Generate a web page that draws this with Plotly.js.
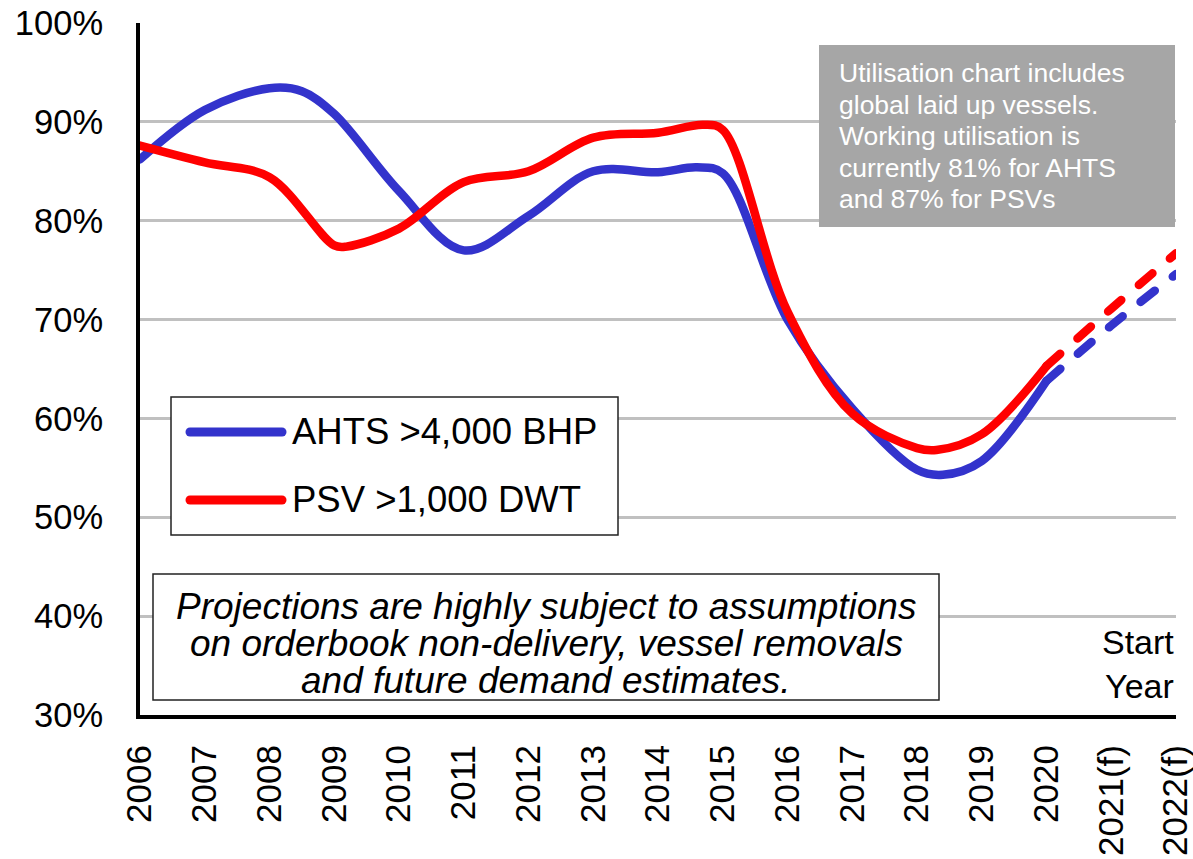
<!DOCTYPE html>
<html>
<head>
<meta charset="utf-8">
<script src="https://cdn.plot.ly/plotly-3.0.1.min.js"></script>
<style>
  body { margin: 0; background: #fff; }
  #chart { width: 1193px; height: 859px; }
  .scatterlayer .js-line { stroke-linecap: round !important; }
  .shapelayer path { stroke-linecap: round; }
</style>
</head>
<body>
<div id="chart"></div>
<script>
// Offshore vessel utilisation - AHTS vs PSV, with forecast years dashed

var years = [2006, 2007, 2008, 2009, 2010, 2011, 2012, 2013, 2014, 2015, 2016, 2017, 2018, 2019, 2020, 2021, 2022];
var yearLabels = ['2006', '2007', '2008', '2009', '2010', '2011', '2012', '2013', '2014', '2015',
                  '2016', '2017', '2018', '2019', '2020', '2021(f)', '2022(f)'];

// values (a few extra points where a curve turns between years)
var ahtsX = [2006, 2007, 2008, 2008.5, 2009, 2010, 2011, 2012, 2013, 2014, 2014.6, 2015, 2016, 2017, 2018, 2018.4, 2019, 2020, 2021, 2022];
var ahtsY = [86.2, 91.2, 93.4, 93.1, 90.8, 83.0, 77.0, 80.5, 85.0, 84.9, 85.4, 84.8, 70.0, 61.0, 54.8, 54.3, 55.7, 63.8, 69.4, 74.6];
var psvX = [2006, 2007, 2008, 2009, 2009.2, 2010, 2011, 2012, 2013, 2014, 2014.7, 2015, 2016, 2017, 2018, 2018.3, 2019, 2020, 2021, 2022];
var psvY = [87.6, 85.9, 84.4, 77.5, 77.4, 79.2, 83.9, 85.0, 88.4, 88.9, 89.7, 89.2, 70.8, 60.5, 57.0, 56.8, 58.4, 65.3, 71.1, 76.7];

var forecastFrom = 2020;
var seriesNames = ['AHTS >4,000 BHP', 'PSV >1,000 DWT'];
var seriesColors = ['#3333cc', '#ff0000'];
var yTicks = [30, 40, 50, 60, 70, 80, 90, 100];

var noteLines = ['Utilisation chart includes', 'global laid up vessels.', 'Working utilisation is',
                 'currently 81% for AHTS', 'and 87% for PSVs'];
var caveatLines = ['Projections are highly subject to assumptions',
                   'on orderbook non-delivery, vessel removals',
                   'and future demand estimates.'];
var axisNote = 'Start<br>Year';

var FONT = 'Arial, "Liberation Sans", sans-serif';

// plot box in page pixels, used to place the boxes and notes
var L = 140, R = 1176, T = 23, B = 715;
function px(x) { return (x - L) / (R - L); }
function py(y) { return (B - y) / (B - T); }

function part(xs, ys, keep) {
    var ox = [], oy = [];
    xs.forEach(function (x, i) {
        if (keep(x)) { ox.push(x); oy.push(ys[i]); }
    });
    return { x: ox, y: oy };
}

var data = [];
[[ahtsX, ahtsY], [psvX, psvY]].forEach(function (s, i) {
    var actual = part(s[0], s[1], function (x) { return x <= forecastFrom; });
    var fcst = part(s[0], s[1], function (x) { return x >= forecastFrom; });
    data.push({
        type: 'scatter', mode: 'lines', name: seriesNames[i],
        x: actual.x, y: actual.y,
        line: { color: seriesColors[i], width: 8.5, shape: 'spline', smoothing: 1 },
        showlegend: false, hoverinfo: 'skip'
    });
    data.push({
        type: 'scatter', mode: 'lines', name: seriesNames[i] + ' (f)',
        x: fcst.x, y: fcst.y,
        line: { color: seriesColors[i], width: 8.5, shape: 'spline', smoothing: 1, dash: '18px,23px' },
        showlegend: false, hoverinfo: 'skip'
    });
});

var shapes = [
    // grey note box
    { type: 'rect', xref: 'paper', yref: 'paper', x0: px(819), x1: px(1175), y0: py(227), y1: py(45),
      fillcolor: '#a6a6a6', line: { width: 0 } },
    // legend box
    { type: 'rect', xref: 'paper', yref: 'paper', x0: px(171), x1: px(618), y0: py(535), y1: py(397),
      fillcolor: '#ffffff', line: { color: '#222', width: 1.5 } },
    // caveat box
    { type: 'rect', xref: 'paper', yref: 'paper', x0: px(153), x1: px(939), y0: py(700), y1: py(574),
      fillcolor: '#ffffff', line: { color: '#222', width: 1.5 } }
];

var annotations = [];
var legendY = [432, 500];
seriesNames.forEach(function (n, i) {
    shapes.push({ type: 'line', xref: 'paper', yref: 'paper', x0: px(190), x1: px(282),
                  y0: py(legendY[i]), y1: py(legendY[i]), line: { color: seriesColors[i], width: 9 } });
    annotations.push({ xref: 'paper', yref: 'paper', x: px(290), y: py(legendY[i] - 1), xanchor: 'left', yanchor: 'middle',
                       text: n, showarrow: false, font: { family: FONT, size: 36.5, color: '#000' } });
});

noteLines.forEach(function (t, i) {
    annotations.push({ xref: 'paper', yref: 'paper', x: px(837), y: py(73 + i * 31.5), xanchor: 'left', yanchor: 'middle',
                       text: t, showarrow: false, font: { family: FONT, size: 26.5, color: '#ffffff' } });
});

caveatLines.forEach(function (t, i) {
    annotations.push({ xref: 'paper', yref: 'paper', x: px(546), y: py(606 + i * 37), xanchor: 'center', yanchor: 'middle',
                       text: '<i>' + t + '</i>', showarrow: false, font: { family: FONT, size: 37, color: '#000' } });
});

annotations.push({ xref: 'paper', yref: 'paper', x: px(1176), y: py(664), xanchor: 'right', yanchor: 'middle', align: 'right',
                   text: axisNote, showarrow: false, font: { family: FONT, size: 34, color: '#000' } });

var layout = {
    width: 1193,
    height: 859,
    margin: { l: L, r: 1193 - R, t: T, b: 859 - B, pad: 0 },
    paper_bgcolor: '#ffffff',
    plot_bgcolor: '#ffffff',
    font: { family: FONT, color: '#000' },
    showlegend: false,
    xaxis: {
        range: [years[0], years[years.length - 1]],
        tickvals: years, ticktext: yearLabels,
        tickangle: -90, ticks: '', ticklabelstandoff: 12, ticklabeloverflow: 'allow',
        tickfont: { family: FONT, size: 35, color: '#000' },
        showgrid: false, zeroline: false,
        showline: true, linecolor: '#000', linewidth: 4
    },
    yaxis: {
        range: [yTicks[0], yTicks[yTicks.length - 1]],
        tickvals: yTicks, ticktext: yTicks.map(function (v) { return v + '%'; }),
        ticks: '', ticklabelstandoff: 26,
        tickfont: { family: FONT, size: 34.5, color: '#000' },
        showgrid: true, gridcolor: '#c0c0c0', gridwidth: 3, zeroline: false,
        showline: true, linecolor: '#000', linewidth: 4
    },
    shapes: shapes,
    annotations: annotations
};

Plotly.newPlot('chart', data, layout, { staticPlot: true });
</script>
</body>
</html>
